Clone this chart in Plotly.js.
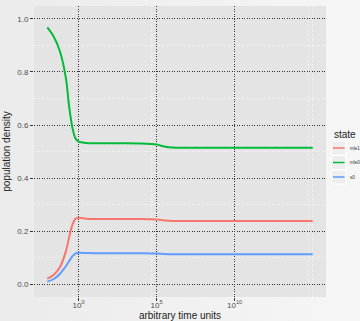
<!DOCTYPE html>
<html>
<head>
<meta charset="utf-8">
<script src="https://cdn.plot.ly/plotly-3.0.1.min.js"></script>
<style>
  html, body { margin: 0; padding: 0; }
  body { width: 360px; height: 321px; background: linear-gradient(to right, #ebebeb, #f6f6f6); }
  #chart { width: 360px; height: 321px; }
</style>
</head>
<body>
<div id="chart"></div>
<script>
// ---- data ----
var times = [0.01, 0.025, 0.063, 0.158, 0.25, 0.4, 0.63, 1, 3.16, 10, 100, 1000, 10000, 100000, 316000, 1000000, 10000000, 1e10, 1e15];
var mle1  = [0.020, 0.034, 0.062, 0.125, 0.176, 0.222, 0.246, 0.250, 0.246, 0.245, 0.245, 0.245, 0.245, 0.243, 0.240, 0.238, 0.238, 0.238, 0.238];
var mle0  = [0.968, 0.935, 0.880, 0.775, 0.670, 0.592, 0.550, 0.537, 0.532, 0.531, 0.531, 0.531, 0.530, 0.526, 0.519, 0.515, 0.514, 0.514, 0.514];
var s0    = [0.009, 0.018, 0.038, 0.068, 0.086, 0.104, 0.115, 0.118, 0.117, 0.116, 0.116, 0.116, 0.116, 0.115, 0.113, 0.112, 0.112, 0.112, 0.112];
var seriesNames  = ['mle1', 'mle0', 's0'];
var seriesValues = [mle1, mle0, s0];
var seriesColors = ['#F8766D', '#00BA38', '#619CFF'];
var xTickVals  = [1, 1e5, 1e10];
var xTickText  = ['10<sup>0</sup>', '10<sup>5</sup>', '10<sup>10</sup>'];
var xMinorVals = [0.5, 5e4, 5e14, 1e15];
var yTickVals  = [0, 0.2, 0.4, 0.6, 0.8, 1.0];
var yTickText  = ['0.0', '0.2', '0.4', '0.6', '0.8', '1.0'];

// ---- layout helpers ----
var W = 360, H = 321;
var M = {l: 34, r: 34, t: 6, b: 24};
var PW = W - M.l - M.r, PH = H - M.t - M.b;
function px(x) { return (x - M.l) / PW; }
function py(y) { return (H - M.b - y) / PH; }

var FONT = 'Liberation Sans, Arial, sans-serif';

var traces = seriesNames.map(function (n, i) {
  return {
    type: 'scatter', mode: 'lines', name: n,
    x: times, y: seriesValues[i],
    line: {color: seriesColors[i], width: 2, shape: 'spline', smoothing: 0.8},
    showlegend: false, hoverinfo: 'skip'
  };
});

// manual ggplot-style legend
var shapes = [], annotations = [];
annotations.push({xref: 'paper', yref: 'paper', x: px(332), y: py(134), xanchor: 'left', yanchor: 'middle',
  text: 'state', showarrow: false, font: {family: FONT, size: 10, color: '#222'}});
seriesNames.forEach(function (n, i) {
  var cy = 148 + i * 14.5;
  shapes.push({type: 'rect', xref: 'paper', yref: 'paper', x0: px(331.5), x1: px(346), y0: py(cy - 7), y1: py(cy + 7),
    fillcolor: '#eeeeee', line: {color: 'white', width: 1}, layer: 'above'});
  shapes.push({type: 'line', xref: 'paper', yref: 'paper', x0: px(333), x1: px(344.5), y0: py(cy), y1: py(cy),
    line: {color: seriesColors[i], width: 1.5}, layer: 'above'});
  annotations.push({xref: 'paper', yref: 'paper', x: px(347.5), y: py(cy), xanchor: 'left', yanchor: 'middle',
    text: n, showarrow: false, font: {family: FONT, size: 4.5, color: '#333'}});
});

var DOT = '1px,1.5px';
var layout = {
  width: W, height: H,
  margin: {l: M.l, r: M.r, t: M.t, b: M.b, pad: 0, autoexpand: false},
  paper_bgcolor: 'rgba(0,0,0,0)',
  plot_bgcolor: '#e4e4e4',
  showlegend: false,
  font: {family: FONT, color: '#4d4d4d', size: 8},
  xaxis: {
    type: 'log', range: [-2.85, 15.85],
    tickmode: 'array', tickvals: xTickVals, ticktext: xTickText,
    ticks: 'outside', ticklen: 3, tickwidth: 1, tickcolor: '#333',
    ticklabelstandoff: -3,
    tickfont: {family: FONT, size: 8, color: '#4d4d4d'},
    showgrid: true, gridcolor: '#333', gridwidth: 1, griddash: DOT,
    minor: {tickmode: 'array', tickvals: xMinorVals, showgrid: true, gridcolor: '#f6f6f6', gridwidth: 1, ticks: ''},
    zeroline: false, showline: false,
    title: {text: 'arbitrary time units', font: {family: FONT, size: 10, color: '#222'}, standoff: 1}
  },
  yaxis: {
    range: [-0.049, 1.049],
    tickmode: 'array', tickvals: yTickVals, ticktext: yTickText,
    ticks: 'outside', ticklen: 3, tickwidth: 1, tickcolor: '#333',
    tickfont: {family: FONT, size: 8, color: '#4d4d4d'},
    showgrid: true, gridcolor: '#333', gridwidth: 1, griddash: DOT,
    minor: {tickmode: 'linear', tick0: 0.1, dtick: 0.2, showgrid: true, gridcolor: '#f6f6f6', gridwidth: 1, ticks: ''},
    zeroline: false, showline: false,
    title: {text: 'population density', font: {family: FONT, size: 10, color: '#222'}, standoff: 4}
  },
  shapes: shapes,
  annotations: annotations
};

Plotly.newPlot('chart', traces, layout, {staticPlot: true, displayModeBar: false});
</script>
</body>
</html>
